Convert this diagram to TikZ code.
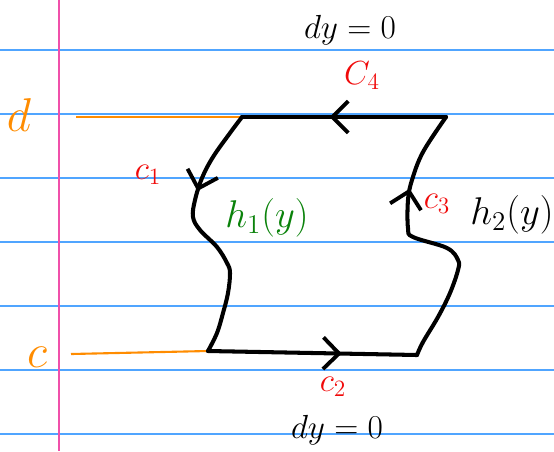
\RequirePackage{fix-cm}
\documentclass[tikz,border=0pt]{standalone}
\usepackage{amsmath}
\usepackage{tikz}
\usetikzlibrary{arrows.meta, decorations.markings}

\definecolor{ruleblue}{RGB}{80,165,255}
\definecolor{marginpink}{RGB}{240,80,170}
\definecolor{limorange}{RGB}{255,140,0}
\definecolor{curvered}{RGB}{240,10,10}
\definecolor{regiongreen}{RGB}{10,130,10}

\tikzset{
  pen/.style={line width=2.3pt, line cap=round, line join=round},
  rule/.style={ruleblue, line width=1pt},
  limline/.style={limorange, line width=1.2pt},
  midarrow/.style={postaction={decorate, decoration={markings,
      mark=at position #1 with {\arrow{Straight Barb[length=9pt,width=18pt,line width=2.2pt]}}}}},
  bigtext/.style={font=\fontsize{19}{22}\selectfont},
}

\begin{document}
\begin{tikzpicture}[x=0.02cm, y=-0.02cm]
      \useasboundingbox (0,0) rectangle (554,451);
      % paper rules
      \foreach \y in {50,114,178,242,306,370,434}
        \draw[rule] (0,\y) -- (554,\y);
      \draw[marginpink, line width=1.2pt] (59,0) -- (59,451);
      % corners of the region
      \coordinate (tl) at (242,117);
      \coordinate (tr) at (446,117);
      \coordinate (bl) at (208,351);
      \coordinate (br) at (417,355);
      \coordinate (dstart) at (76,117);
      \coordinate (cstart) at (71,354);
      % limits
      \draw[limline] (dstart) -- (tl);
      \draw[limline] (cstart) -- (bl);
      \node[limorange, font=\fontsize{27}{30}\selectfont] (dlabel) at (19,115) {$d$};
      \node[limorange, font=\fontsize{27}{30}\selectfont] (clabel) at (37,357) {$c$};
      % boundary
      \draw[pen, midarrow=0.57] (tr) -- (tl);
      \draw[pen, midarrow=0.33] plot[smooth, tension=0.6] coordinates {(tl) (230,133) (213,157) (202,178) (195,200)
        (193,217) (200,230) (217,247) (227,263) (230,273) (228,293) (223,313) (217,333) (bl)};
      \draw[pen, midarrow=0.64] (bl) -- (br);
      \draw[pen, midarrow=0.72] plot[smooth, tension=0.6] coordinates {(br) (423,342) (438,317) (450,293)
        (458,270) (458,260) (447,248) (413,237) (408,228) (408,200) (412,180) (423,152) (tr)};
      % labels
      \node[bigtext] (topdy) at (350,30) {$dy = 0$};
      \node[bigtext] (botdy) at (337,430) {$dy = 0$};
      \node[bigtext, curvered] (cfour) at (362,76) {$C_4$};
      \node[bigtext, curvered] (cone) at (148,175) {$c_1$};
      \node[bigtext, curvered] (ctwo) at (333,387) {$c_2$};
      \node[bigtext, curvered] (cthree) at (437,204) {$c_3$};
      \node[regiongreen, font=\fontsize{22}{26}\selectfont] (hone) at (267,218) {$h_1(y)$};
      \node[font=\fontsize{22}{26}\selectfont] (htwo) at (512,215) {$h_2(y)$};
\end{tikzpicture}
\end{document}
